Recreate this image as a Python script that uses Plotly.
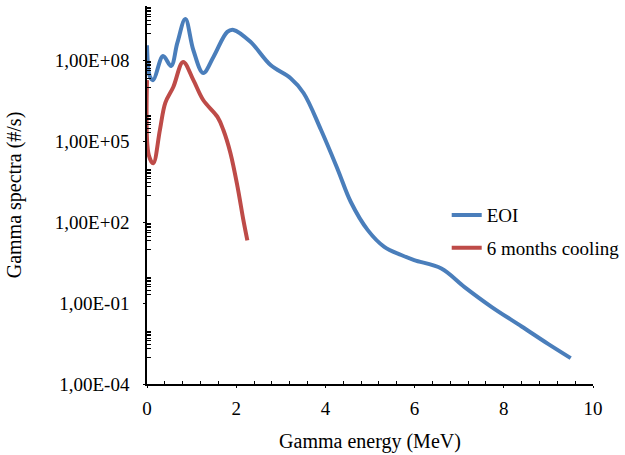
import plotly.graph_objects as go

# Gamma spectrum at end of irradiation (EOI)
eoi_energy = [0.0, 0.07, 0.14, 0.36, 0.54, 0.68, 0.86, 1.04, 1.26, 1.49, 1.80, 1.94,
              2.32, 2.77, 3.22, 3.51, 3.90, 4.28, 4.57, 4.95, 5.32, 5.70, 5.99, 6.6,
              7.12, 7.73, 8.4, 9.0, 9.5]
eoi_rate = [3.5e8, 2.3e7, 1.8e7, 1.4e8, 6.0e7, 4.3e8, 3.3e9, 2.3e8, 3.3e7, 1.3e8, 1.1e9, 1.3e9,
            4.7e8, 6.5e7, 2.1e7, 6.0e6, 2.6e5, 8.5e3, 5.5e2, 50, 12, 6.0, 3.9, 1.9,
            0.39, 0.071, 0.0135, 3.0e-3, 9.1e-4]

# Gamma spectrum after 6 months of cooling
cool_energy = [0.0, 0.04, 0.14, 0.29, 0.41, 0.59, 0.81, 1.04, 1.26, 1.58, 1.71, 1.87,
               2.03, 2.16, 2.25]
cool_rate = [1.8e7, 3.0e4, 1.5e4, 2.6e5, 2.6e6, 1.0e7, 8.5e7, 1.8e7, 3.3e6, 7.8e5, 2.6e5, 3.6e4,
             2.0e3, 1.2e2, 21]

y_ticks = [1e-4, 1e-1, 1e2, 1e5, 1e8]
y_ticktext = ["1,00E-04", "1,00E-01", "1,00E+02", "1,00E+05", "1,00E+08"]
x_ticks = [0, 2, 4, 6, 8, 10]

# minor ticks: every unit of the odd decades
y_minor = [n * 10.0 ** k for k in (-3, -1, 1, 3, 5, 7, 9) for n in range(1, 10)]
y_minor = [v for v in y_minor if v not in y_ticks and v <= 1e10]
x_minor = [round(0.4 * i, 1) for i in range(26) if round(0.4 * i, 1) not in x_ticks]

BLUE = "#4A7EBB"
RED = "#BE4B48"
SERIF = "Liberation Serif"

fig = go.Figure()
fig.add_trace(go.Scatter(x=eoi_energy, y=eoi_rate, mode="lines", name="EOI",
                         legendgroup="a",
                         line=dict(color=BLUE, width=4, shape="spline", smoothing=1.0)))
fig.add_trace(go.Scatter(x=cool_energy, y=cool_rate, mode="lines", name="6 months cooling",
                         legendgroup="b",
                         line=dict(color=RED, width=4, shape="spline", smoothing=1.0)))

fig.update_layout(
    width=625, height=455,
    margin=dict(l=147, r=32, t=6, b=71, autoexpand=False),
    font=dict(family=SERIF, size=19, color="black"),
    paper_bgcolor="white", plot_bgcolor="white",
    showlegend=True,
    legend=dict(x=0.672, y=0.497, xanchor="left", yanchor="top",
                bgcolor="rgba(0,0,0,0)", traceorder="grouped", tracegroupgap=5,
                font=dict(family=SERIF, size=19, color="black")),
    xaxis=dict(
        range=[0, 10], tickvals=x_ticks, ticks="outside", ticklen=2,
        tickwidth=1, tickcolor="black", showline=True, linecolor="black",
        linewidth=1.5, showgrid=False, zeroline=False, ticklabelstandoff=4,
        tickfont=dict(family=SERIF, size=19, color="black"),
        minor=dict(tickvals=x_minor, ticks="inside", ticklen=3, tickcolor="black",
                   tickwidth=1, showgrid=False),
        title=dict(text="Gamma energy (MeV)",
                   font=dict(family=SERIF, size=20, color="black"), standoff=16),
    ),
    yaxis=dict(
        type="log", range=[-4, 10], tickvals=y_ticks, ticktext=y_ticktext,
        ticks="outside", ticklen=2, tickwidth=1, tickcolor="black",
        showline=True, linecolor="black", linewidth=1.5, showgrid=False,
        zeroline=False, ticklabelstandoff=10,
        tickfont=dict(family=SERIF, size=19, color="black"),
        minor=dict(tickvals=y_minor, ticks="inside", ticklen=4, tickcolor="black",
                   tickwidth=1, showgrid=False),
        title=dict(text="Gamma spectra (#/s)",
                   font=dict(family=SERIF, size=20, color="black"), standoff=28),
    ),
)

fig.write_html("out.html")
